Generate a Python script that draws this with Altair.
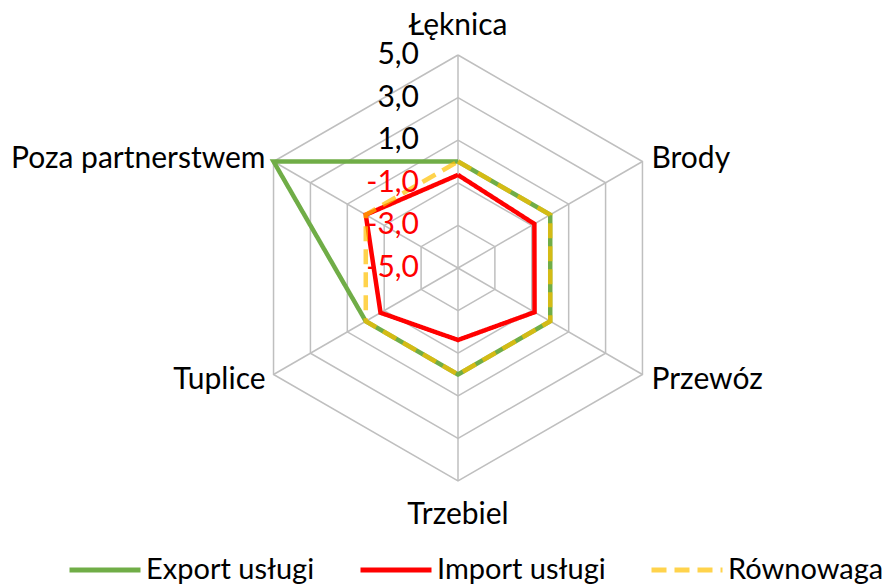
import math
import altair as alt
import pandas as pd

# ---------------- data ----------------
categories = ["Łęknica", "Brody", "Przewóz", "Trzebiel", "Tuplice", "Poza partnerstwem"]
export_vals = [0.0, 0.0, 0.0, 0.0, 0.0, 5.0]
import_vals = [-0.63, -0.86, -0.85, -1.62, -0.80, 0.0]
balance_vals = [0.0, 0.0, 0.0, 0.0, 0.0, 0.0]
series_names = ["Export usługi", "Import usługi", "Równowaga"]
tick_values = [-5, -3, -1, 1, 3, 5]
tick_labels = ["-5,0", "-3,0", "-1,0", "1,0", "3,0", "5,0"]

VMIN, VMAX = -5.0, 5.0
FONT = "Lato"
FS = 30
W, H = 876, 578
PX = 21.3  # pixels per radial unit
CX, CY = 450, 260  # centre inside plot area (pixels)


def polar(v, i):
    r = v - VMIN
    th = math.radians(60 * i)
    return r * math.sin(th), r * math.cos(th)


# series table
rows = []
for s, vals in zip(series_names, [export_vals, import_vals, balance_vals]):
    for k in range(len(categories) + 1):
        i = k % len(categories)
        x, y = polar(vals[i], i)
        rows.append({"series": s, "x": x, "y": y, "o": k})
series_df = pd.DataFrame(rows)

# grid rings
grid_rows = []
for v in tick_values[1:]:
    for k in range(len(categories) + 1):
        i = k % len(categories)
        x, y = polar(v, i)
        grid_rows.append({"ring": v, "x": x, "y": y, "o": k})
grid_df = pd.DataFrame(grid_rows)

# spokes
spoke_rows = []
for i, c in enumerate(categories):
    x, y = polar(VMAX, i)
    spoke_rows.append({"cat": c, "x0": 0.0, "y0": 0.0, "x": x, "y": y, "i": i})
spoke_df = pd.DataFrame(spoke_rows)

# ticks
tick_df = pd.DataFrame({
    "v": tick_values,
    "label": tick_labels,
    "x": [0.0] * len(tick_values),
    "y": [v - VMIN for v in tick_values],
})

xs = alt.Scale(domain=[-CX / PX, (W - CX) / PX], nice=False, zero=False)
ys = alt.Scale(domain=[-(H - CY) / PX, CY / PX], nice=False, zero=False)
X = alt.X("x:Q", scale=xs, axis=None)
Y = alt.Y("y:Q", scale=ys, axis=None)

grid = alt.Chart(grid_df).mark_line(color="#BFBFBF", strokeWidth=1.5).encode(
    x=X, y=Y, detail="ring:N", order="o:Q"
)
spokes = alt.Chart(spoke_df).mark_rule(color="#BFBFBF", strokeWidth=1.5).encode(
    x=alt.X("x0:Q", scale=xs, axis=None), y=alt.Y("y0:Q", scale=ys, axis=None),
    x2="x:Q", y2="y:Q"
)

color_scale = alt.Scale(domain=series_names,
                        range=["#70AD47", "#FF0000", "rgba(255,192,0,0.7)"])
dash_scale = alt.Scale(domain=series_names, range=[[1, 0], [1, 0], [15, 8]])
legend = alt.Legend(
    title=None, orient="none", legendX=59, legendY=524, direction="horizontal",
    symbolType="stroke", symbolSize=5041, symbolStrokeWidth=5,
    labelFont=FONT, labelFontSize=29, labelColor="black", labelOffset=3,
    columnPadding=35, labelLimit=400,
)


def series_layer(name):
    return alt.Chart(series_df).transform_filter(
        alt.datum.series == name
    ).mark_line(strokeWidth=4.5).encode(
        x=X, y=Y, order="o:Q",
        color=alt.Color("series:N", scale=color_scale, legend=legend),
        strokeDash=alt.StrokeDash("series:N", scale=dash_scale, legend=legend),
    )


ticks = alt.Chart(tick_df).mark_text(
    align="right", baseline="middle", dx=-39, font=FONT, fontSize=FS
).encode(
    x=X, y=Y, text="label:N",
    color=alt.condition(alt.datum.v < 0, alt.value("#FF0000"), alt.value("black")),
)

lab_top = alt.Chart(spoke_df).transform_filter(alt.datum.i == 0).mark_text(
    align="center", baseline="middle", dy=-29, font=FONT, fontSize=FS, color="black"
).encode(x=X, y=Y, text="cat:N")
lab_bottom = alt.Chart(spoke_df).transform_filter(alt.datum.i == 3).mark_text(
    align="center", baseline="middle", dy=34, font=FONT, fontSize=FS, color="black"
).encode(x=X, y=Y, text="cat:N")
lab_right_up = alt.Chart(spoke_df).transform_filter(alt.datum.i == 1).mark_text(
    align="left", baseline="middle", dx=9, dy=-3, font=FONT, fontSize=FS, color="black"
).encode(x=X, y=Y, text="cat:N")
lab_right_dn = alt.Chart(spoke_df).transform_filter(alt.datum.i == 2).mark_text(
    align="left", baseline="middle", dx=9, dy=5, font=FONT, fontSize=FS, color="black"
).encode(x=X, y=Y, text="cat:N")
lab_left_up = alt.Chart(spoke_df).transform_filter(alt.datum.i == 5).mark_text(
    align="right", baseline="middle", dx=-8, dy=-3, font=FONT, fontSize=FS, color="black"
).encode(x=X, y=Y, text="cat:N")
lab_left_dn = alt.Chart(spoke_df).transform_filter(alt.datum.i == 4).mark_text(
    align="right", baseline="middle", dx=-8, dy=5, font=FONT, fontSize=FS, color="black"
).encode(x=X, y=Y, text="cat:N")

chart = alt.layer(
    grid, spokes,
    series_layer("Export usługi"), series_layer("Import usługi"), series_layer("Równowaga"),
    ticks, lab_top, lab_bottom, lab_right_up, lab_right_dn, lab_left_up, lab_left_dn,
).properties(
    width=W, height=H, padding=0, background="white",
    autosize=alt.AutoSizeParams(type="none"),
).configure_view(strokeWidth=0)

chart.save("out.html", embed_options={"renderer": "svg", "actions": False})
